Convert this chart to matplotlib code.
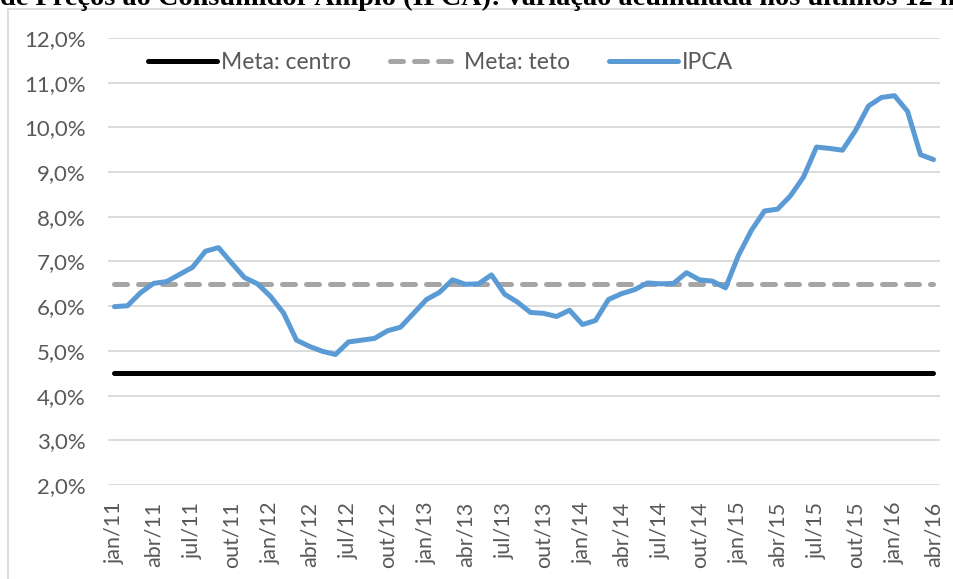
import matplotlib
matplotlib.use("Agg")
import matplotlib.pyplot as plt
from matplotlib.patches import Rectangle

# --- DATA ---
years = ["11", "12", "13", "14", "15", "16"]
months = ["jan", "fev", "mar", "abr", "mai", "jun", "jul", "ago", "set", "out", "nov", "dez"]
ipca = [
    5.99, 6.01, 6.30, 6.51, 6.55, 6.71, 6.87, 7.23, 7.31, 6.97, 6.64, 6.50,
    6.22, 5.85, 5.24, 5.10, 4.99, 4.92, 5.20, 5.24, 5.28, 5.45, 5.53, 5.84,
    6.15, 6.31, 6.59, 6.49, 6.50, 6.70, 6.27, 6.09, 5.86, 5.84, 5.77, 5.91,
    5.59, 5.68, 6.15, 6.28, 6.37, 6.52, 6.50, 6.51, 6.75, 6.59, 6.56, 6.41,
    7.14, 7.70, 8.13, 8.17, 8.47, 8.89, 9.56, 9.53, 9.49, 9.93, 10.48, 10.67,
    10.71, 10.36, 9.39, 9.28,
]
meta_centro = [4.5] * len(ipca)
meta_teto = [6.5] * len(ipca)
labels = [f"{m}/{y}" for y in years for m in months][:len(ipca)]
x = list(range(len(ipca)))

FONT = ["Lato", "DejaVu Sans"]
plt.rcParams["font.family"] = FONT
GRAY_TXT = "#595959"
LW = 3.6

fig = plt.figure(figsize=(9.54, 5.79), dpi=100)
ax = fig.add_axes([108 / 954, 1 - 485 / 579, 832 / 954, 447 / 579])

ax.plot(x, meta_centro, color="black", lw=LW, solid_capstyle="round", label="Meta: centro")
ax.plot(x, meta_teto, color="#a5a5a5", lw=LW, dashes=(2.6, 2.2), dash_capstyle="round",
        label="Meta: teto")
ax.plot(x, ipca, color="#5b9bd5", lw=LW, solid_capstyle="round", solid_joinstyle="round",
        label="IPCA")

ax.set_xlim(-0.5, len(ipca) - 0.5)
ax.set_ylim(2, 12)
ax.set_yticks(range(2, 13))
ax.set_yticklabels([f"{v},0%" for v in range(2, 13)])
ax.set_xticks(x[::3])
ax.set_xticklabels(labels[::3], rotation=90, va="top", ha="center")
ax.tick_params(axis="both", length=0, labelcolor=GRAY_TXT)
ax.tick_params(axis="y", pad=16, labelsize=16)
ax.tick_params(axis="x", pad=12, labelsize=15.5)
ax.grid(axis="y", color="#d9d9d9", lw=1.3)
ax.set_axisbelow(True)
for s in ax.spines.values():
    s.set_visible(False)

leg = ax.legend(loc="upper left", bbox_to_anchor=(40 / 832, 1 - 14 / 447), ncol=3, frameon=False,
                fontsize=16.5, handlelength=3.0, handletextpad=0.2, columnspacing=1.7,
                borderaxespad=0, borderpad=0)
for t in leg.get_texts():
    t.set_color(GRAY_TXT)

# chart frame and cut-off caption above it
fig.patches.append(Rectangle((8 / 954, -0.1), 1.2, 1 - 9 / 579 + 0.1, transform=fig.transFigure,
                             fill=False, edgecolor="#d9d9d9", lw=1.3))
fig.text(0.0, 1 - 5 / 579, "de Preços ao Consumidor Amplo (IPCA): variação acumulada nos últimos 12 meses",
         family="Liberation Serif", fontweight="bold", fontsize=20.3, va="baseline", ha="left")

fig.savefig("out.png", dpi=100)
